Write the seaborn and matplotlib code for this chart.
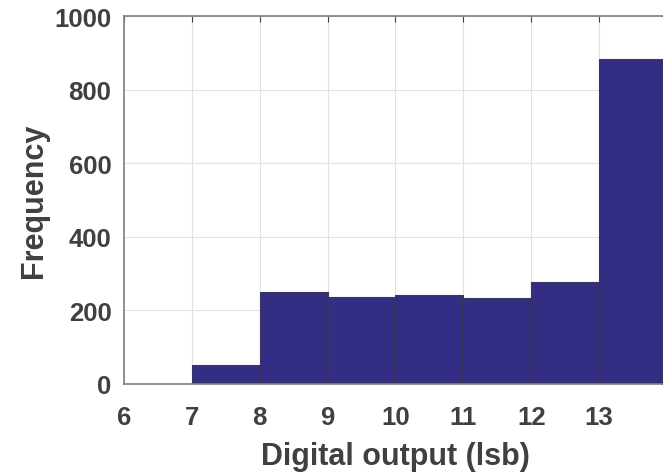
import numpy as np
import pandas as pd
import matplotlib.pyplot as plt
import seaborn as sns

# histogram of digital output codes
bin_edges = [6, 7, 8, 9, 10, 11, 12, 13, 14]
counts = [0, 52, 250, 237, 242, 234, 278, 883]

centers = [(a + b) / 2 for a, b in zip(bin_edges[:-1], bin_edges[1:])]
df = pd.DataFrame({"code": centers, "count": counts})

sns.set_style("whitegrid")
plt.rcParams['font.family'] = ['Liberation Sans', 'DejaVu Sans']
plt.rcParams['font.weight'] = 'bold'

fig = plt.figure(figsize=(6.63, 4.77), dpi=100)
ax = fig.add_axes([0.187, 0.193, 0.819, 0.771])

sns.histplot(data=df, x="code", weights="count", bins=bin_edges,
             color="#342d84", alpha=1, edgecolor="#3c3c3c", linewidth=0.8, ax=ax)

ax.set_xlim(6, 14)
ax.set_ylim(0, 1000)
ax.set_xticks(range(6, 14))
ax.set_yticks(range(0, 1001, 200))
ax.grid(True, color="#e2e2e2", linewidth=0.8)
ax.set_axisbelow(True)

text_col = "#404040"
ax.set_xlabel("Digital output (lsb)", fontsize=22, fontweight="bold", color=text_col, labelpad=9)
ax.set_ylabel("Frequency", fontsize=22, fontweight="bold", color=text_col, labelpad=4)
ax.tick_params(axis="both", labelsize=18.5, colors=text_col, direction="in",
               length=4, top=True, right=True)
ax.tick_params(axis="x", pad=15)
ax.tick_params(axis="y", pad=9)
for lab in ax.get_xticklabels() + ax.get_yticklabels():
    lab.set_fontweight("bold")
for sp in ax.spines.values():
    sp.set_color("#808080")
    sp.set_linewidth(1.2)

fig.savefig("out.png", dpi=100)
